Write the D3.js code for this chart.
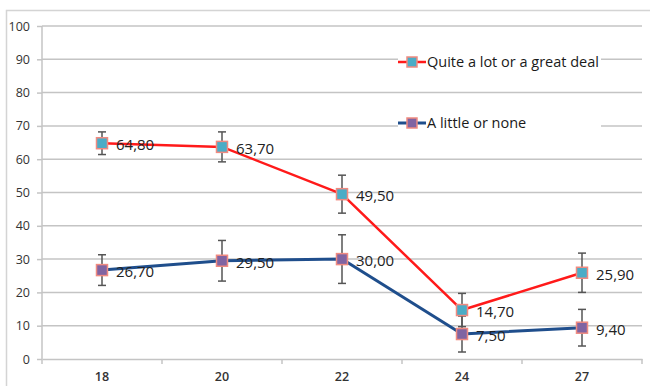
<!DOCTYPE html>
<html>
<head>
<meta charset="utf-8">
<script src="https://cdn.jsdelivr.net/npm/d3@7"></script>
<style>
  body { margin: 0; background: #fff; }
  svg { display: block; }
</style>
</head>
<body>
<svg id="chart" width="650" height="386"></svg>
<script>
const categories = ["18", "20", "22", "24", "27"];
const seriesNames = ["Quite a lot or a great deal", "A little or none"];
const valuesHigh = [64.8, 63.7, 49.5, 14.7, 25.9];
const valuesLow = [26.7, 29.5, 30.0, 7.5, 9.4];
const errorsHigh = [3.4, 4.5, 5.7, 5.0, 5.9];
const errorsLow = [4.6, 6.1, 7.3, 5.4, 5.5];
const yTicks = [0, 10, 20, 30, 40, 50, 60, 70, 80, 90, 100];

const svg = d3.select("#chart");
const margin = { left: 42 };

const x = d3.scaleBand().domain(categories).range([margin.left, 642]).padding(0);
const y = d3.scaleLinear().domain([0, 100]).range([359, 26]);

// frame
svg.append("rect").attr("x", 6.5).attr("y", 10.5).attr("width", 660).attr("height", 400)
  .attr("fill", "none").attr("stroke", "#d4d4d4").attr("stroke-width", 1.5);

// gridlines
svg.append("g").selectAll("line").data(yTicks.filter(d => d > 0)).join("line")
  .attr("x1", margin.left).attr("x2", 642)
  .attr("y1", d => y(d)).attr("y2", d => y(d))
  .attr("stroke", "#c4c4c4").attr("stroke-width", 1.5);

// y axis
const yAxis = d3.axisLeft(y).tickValues(yTicks).tickSize(5).tickPadding(7);
const gy = svg.append("g").attr("transform", `translate(${margin.left},0)`).call(yAxis);
gy.select(".domain").attr("stroke", "#c4c4c4").attr("stroke-width", 1.5).attr("d", `M0,${y(100)}V${y(0)}`);
gy.selectAll(".tick line").attr("stroke", "#c4c4c4").attr("stroke-width", 1.5);
gy.selectAll(".tick text").attr("fill", "#333").style("font-family", "'Open Sans', sans-serif").style("font-size", "12.5px");

// x axis
const xAxis = d3.axisBottom(x).tickSize(0).tickPadding(13);
const gx = svg.append("g").attr("transform", `translate(0,${y(0)})`).call(xAxis);
gx.select(".domain").attr("stroke", "#c4c4c4").attr("stroke-width", 1.5);
gx.selectAll(".tick text").attr("fill", "#333").style("font-family", "'Open Sans', sans-serif")
  .style("font-size", "12.5px").style("font-weight", "600");
// boundary tick marks
gx.append("g").selectAll("line").data(categories.concat(["end"])).join("line")
  .attr("x1", (d, i) => margin.left + i * x.bandwidth())
  .attr("x2", (d, i) => margin.left + i * x.bandwidth())
  .attr("y1", 0).attr("y2", 5)
  .attr("stroke", "#c4c4c4").attr("stroke-width", 1.5);

const series = [
  { name: seriesNames[0], values: valuesHigh, errors: errorsHigh, line: "#ff1a1a", fill: "#4bacc6", width: 2.5 },
  { name: seriesNames[1], values: valuesLow, errors: errorsLow, line: "#1f4e8c", fill: "#8064a2", width: 3 }
];

const cx = d => x(d) + x.bandwidth() / 2;
const lineGen = d3.line().x(d => cx(d.c)).y(d => y(d.v));

// lines
series.slice().reverse().forEach(s => {
  const pts = categories.map((c, i) => ({ c, v: s.values[i] }));
  svg.append("path").datum(pts).attr("d", lineGen)
    .attr("fill", "none").attr("stroke", s.line).attr("stroke-width", s.width)
    .attr("stroke-linejoin", "round");
});

// error bars
series.forEach(s => {
  const g = svg.append("g");
  categories.forEach((c, i) => {
    const top = y(s.values[i] + s.errors[i]);
    const bot = y(s.values[i] - s.errors[i]);
    const xx = cx(c);
    g.append("line").attr("x1", xx).attr("x2", xx).attr("y1", top).attr("y2", bot)
      .attr("stroke", "#555").attr("stroke-width", 1.5);
    [top, bot].forEach(yy => g.append("line").attr("x1", xx - 4).attr("x2", xx + 4).attr("y1", yy).attr("y2", yy)
      .attr("stroke", "#555").attr("stroke-width", 1.5));
  });
});

// markers and labels
series.forEach(s => {
  categories.forEach((c, i) => {
    svg.append("rect").attr("x", cx(c) - 5.5).attr("y", y(s.values[i]) - 5.5)
      .attr("width", 11).attr("height", 11)
      .attr("fill", s.fill).attr("stroke", "#f08a80").attr("stroke-width", 1.5);
    svg.append("text").attr("x", cx(c) + 14).attr("y", y(s.values[i]) + 7)
      .attr("fill", "#222").style("font-family", "'Open Sans', sans-serif").style("font-size", "15px")
      .text(s.values[i].toFixed(2).replace(".", ","));
  });
});

// legend
const legendY = [62, 123];
series.forEach((s, i) => {
  const g = svg.append("g").attr("transform", `translate(398,${legendY[i]})`);
  g.append("rect").attr("x", 0).attr("y", -9).attr("width", 203).attr("height", 18).attr("fill", "#fff");
  g.append("line").attr("x1", 0).attr("x2", 28).attr("y1", 0).attr("y2", 0)
    .attr("stroke", s.line).attr("stroke-width", s.width);
  g.append("rect").attr("x", 9).attr("y", -5).attr("width", 10).attr("height", 10)
    .attr("fill", s.fill).attr("stroke", "#f08a80").attr("stroke-width", 1.5);
  g.append("text").attr("x", 29).attr("y", 5).attr("fill", "#1a1a1a")
    .style("font-family", "'Open Sans', sans-serif").style("font-size", "14.5px")
    .text(s.name);
});
</script>
</body>
</html>
